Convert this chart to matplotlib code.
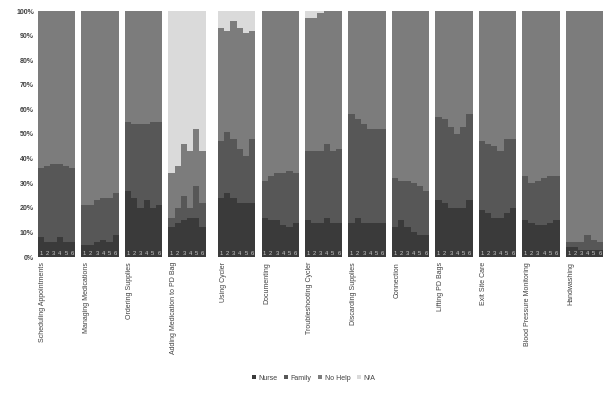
import matplotlib
matplotlib.use("Agg")
import matplotlib.pyplot as plt
import numpy as np
from matplotlib.patches import Patch

plt.rcParams['font.family'] = ['Liberation Sans', 'DejaVu Sans']

TASKS = [
    'Scheduling Appointments', 'Managing Medications', 'Ordering Supplies',
    'Adding Medication to PD Bag', 'Using Cycler', 'Documenting',
    'Troubleshooting Cycler', 'Discarding Supplies', 'Connection',
    'Lifting PD Bags', 'Exit Site Care', 'Blood Pressure Monitoring',
    'Handwashing',
]
BAR_LABELS = ['1', '2', '3', '4', '5', '6']
SERIES = ['Nurse', 'Family', 'No Help', 'N/A']

# percent per bar, 6 bars per task
nurse = [
    [8, 6, 6, 8, 6, 6],
    [5, 5, 6, 7, 6, 9],
    [27, 24, 20, 23, 20, 21],
    [12, 14, 15, 16, 16, 12],
    [24, 26, 24, 22, 22, 22],
    [16, 15, 15, 13, 12, 14],
    [15, 14, 14, 16, 14, 14],
    [14, 16, 14, 14, 14, 14],
    [12, 15, 12, 10, 9, 9],
    [23, 22, 20, 20, 20, 23],
    [19, 18, 16, 16, 18, 20],
    [15, 14, 13, 13, 14, 15],
    [4, 4, 3, 3, 3, 3],
]
family = [
    [28, 31, 32, 30, 31, 30],
    [16, 16, 17, 17, 18, 17],
    [28, 30, 34, 31, 35, 34],
    [4, 6, 10, 4, 13, 10],
    [23, 25, 24, 22, 19, 26],
    [15, 18, 19, 21, 23, 20],
    [28, 29, 29, 30, 29, 30],
    [44, 40, 40, 38, 38, 38],
    [20, 16, 19, 20, 20, 18],
    [34, 34, 33, 30, 33, 35],
    [28, 28, 29, 27, 30, 28],
    [18, 16, 18, 19, 19, 18],
    [2, 2, 3, 6, 4, 3],
]
no_help = [
    [64, 63, 62, 62, 63, 64],
    [79, 79, 77, 76, 76, 74],
    [45, 46, 46, 46, 45, 45],
    [18, 17, 21, 23, 23, 21],
    [46, 41, 48, 49, 50, 44],
    [69, 67, 66, 66, 65, 66],
    [54, 54, 56, 54, 57, 56],
    [42, 44, 46, 48, 48, 48],
    [68, 69, 69, 70, 71, 73],
    [43, 44, 47, 50, 47, 42],
    [53, 54, 55, 57, 52, 52],
    [67, 70, 69, 68, 67, 67],
    [94, 94, 94, 91, 93, 94],
]
not_applicable = [
    [0, 0, 0, 0, 0, 0],
    [0, 0, 0, 0, 0, 0],
    [0, 0, 0, 0, 0, 0],
    [66, 63, 54, 57, 48, 57],
    [7, 8, 4, 7, 9, 8],
    [0, 0, 0, 0, 0, 0],
    [3, 3, 1, 0, 0, 0],
    [0, 0, 0, 0, 0, 0],
    [0, 0, 0, 0, 0, 0],
    [0, 0, 0, 0, 0, 0],
    [0, 0, 0, 0, 0, 0],
    [0, 0, 0, 0, 0, 0],
    [0, 0, 0, 0, 0, 0],
]

COLORS = ['#3a3a3a', '#575757', '#7c7c7c', '#dadada']


def bar_positions():
    xs = []
    for g in range(len(TASKS)):
        start = g * 7 + (1 if g >= 4 else 0)
        xs.append(np.arange(start, start + 6))
    return xs


def main():
    fig = plt.figure(figsize=(6.03, 3.93), dpi=100)
    ax = fig.add_axes([38 / 603, 1 - 257 / 393, 565 / 603, 246 / 393])

    positions = bar_positions()
    series = [nurse, family, no_help, not_applicable]

    for g, xs in enumerate(positions):
        bottom = np.zeros(6)
        for s, data in enumerate(series):
            vals = np.array(data[g], dtype=float)
            ax.bar(xs, vals, width=1.0, bottom=bottom, color=COLORS[s], linewidth=0)
            bottom += vals
        for x, lab in zip(xs, BAR_LABELS):
            ax.text(x, 0.4, lab, ha='center', va='bottom', fontsize=4.2,
                    color='#c8c8c8')
        ax.text(xs[0] + 0.3, -0.02, TASKS[g], rotation=90, ha='center', va='top',
                fontsize=5, color='#404040', transform=ax.get_xaxis_transform())

    ax.set_xlim(-0.5, positions[-1][-1] + 0.5)
    ax.set_ylim(0, 100)
    ax.set_yticks(np.arange(0, 101, 10))
    ax.set_yticklabels([f'{v}%' for v in range(0, 101, 10)], fontsize=5,
                       fontweight='bold', color='#404040')
    ax.set_xticks([])
    ax.tick_params(axis='y', length=0, pad=3)
    for sp in ax.spines.values():
        sp.set_visible(False)

    handles = [Patch(facecolor=c, edgecolor='none', label=l) for c, l in zip(COLORS, SERIES)]
    fig.legend(handles=handles, loc='center', bbox_to_anchor=(0.52, 0.038), ncol=4,
               frameon=False, fontsize=5, handlelength=0.6, handleheight=0.6,
               handletextpad=0.3, columnspacing=1.0, labelcolor='#404040')

    fig.savefig('out.png', dpi=100)


if __name__ == '__main__':
    main()
